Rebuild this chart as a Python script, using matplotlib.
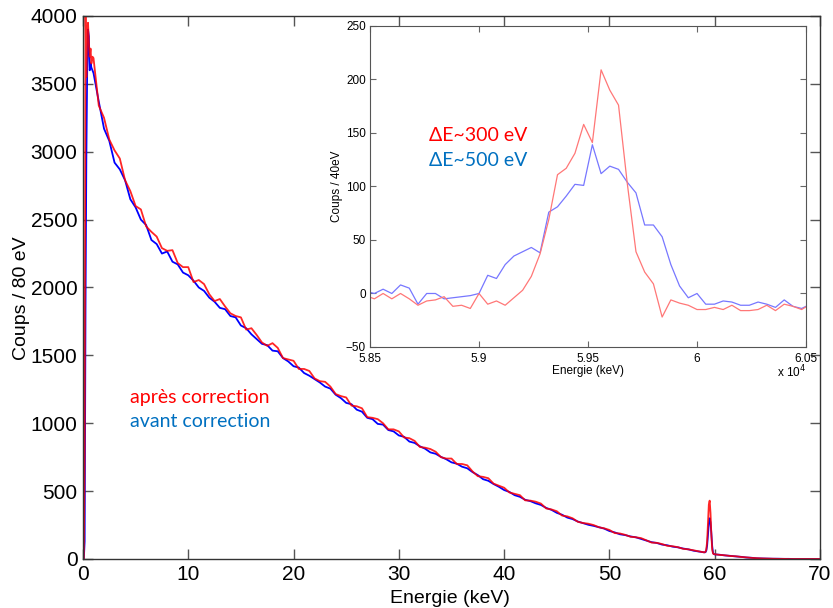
import numpy as np
import matplotlib
matplotlib.use('Agg')
import matplotlib.pyplot as plt
from matplotlib import font_manager as fm
from matplotlib.ticker import FuncFormatter, FixedLocator

# ---------------- main spectrum data (keV, counts / 80 eV) ----------------
energy_low = [0.08, 0.16, 0.24, 0.32, 0.40, 0.48, 0.56, 0.64, 0.72, 0.80, 0.90]
red_low = [0, 800, 4050, 3550, 3850, 3950, 3800, 3700, 3760, 3650, 3700]
blue_low = [0, 130, 1850, 2950, 3600, 3900, 3850, 3600, 3650, 3620, 3600]

energy_mid = list(np.arange(1.0, 59.01, 0.5))
red_mid = [3690, 3340, 3250, 3090, 3010, 2950, 2790, 2710, 2600, 2575,
           2450, 2410, 2375, 2290, 2270, 2275, 2180, 2150, 2150, 2040,
           2055, 2025, 1950, 1900, 1915, 1860, 1810, 1790, 1780, 1690,
           1700, 1650, 1595, 1570, 1590, 1555, 1480, 1470, 1460, 1400,
           1400, 1385, 1330, 1310, 1305, 1270, 1215, 1200, 1190, 1130,
           1125, 1110, 1045, 1040, 1030, 1000, 955, 955, 940, 895,
           890, 870, 825, 820, 810, 790, 750, 740, 740, 700,
           700, 690, 645, 610, 605, 595, 555, 540, 525, 490,
           480, 470, 432, 430, 422, 408, 372, 365, 352, 320,
           314, 300, 274, 265, 260, 250, 234, 226, 214, 191,
           188, 178, 164, 160, 154, 138, 121, 119, 110, 97,
           94, 87, 75, 71, 64, 56, 49]
blue_mid = [3580, 3370, 3170, 3080, 2920, 2870, 2790, 2650, 2590, 2500,
            2460, 2350, 2320, 2250, 2265, 2190, 2170, 2110, 2090, 2050,
            2000, 1975, 1925, 1895, 1850, 1840, 1790, 1780, 1720, 1700,
            1655, 1620, 1585, 1575, 1535, 1530, 1480, 1455, 1420, 1410,
            1370, 1350, 1325, 1300, 1270, 1255, 1210, 1185, 1150, 1140,
            1100, 1085, 1040, 1030, 995, 990, 950, 940, 910, 900,
            865, 855, 830, 812, 785, 775, 752, 735, 712, 702,
            680, 668, 640, 618, 588, 576, 552, 532, 508, 494,
            470, 458, 436, 426, 410, 398, 376, 362, 340, 326,
            305, 294, 276, 264, 252, 244, 234, 224, 206, 196,
            182, 176, 166, 160, 148, 136, 124, 118, 106, 101,
            91, 86, 77, 71, 61, 55, 49]

energy_peak = [59.12, 59.20, 59.28, 59.36, 59.44, 59.52, 59.60, 59.68, 59.76, 59.84, 59.92, 60.0]
red_peak = [52, 70, 130, 260, 400, 430, 340, 180, 70, 40, 36, 35]
blue_peak = [50, 62, 100, 180, 260, 300, 270, 190, 95, 45, 36, 34]

energy_tail = list(np.arange(60.5, 70.01, 0.5))
red_tail = [30, 27, 22, 20, 15, 12, 8, 6, 4, 3, 2, 1, 1, 0, 0, 0, 0, 0, 0, 0]
blue_tail = [31, 26, 23, 19, 16, 11, 9, 5, 4, 3, 2, 2, 1, 1, 0, 0, 0, 0, 0, 0]

energy = energy_low + energy_mid + energy_peak + energy_tail
red_counts = red_low + red_mid + red_peak + red_tail
blue_counts = blue_low + blue_mid + blue_peak + blue_tail

# ---------------- inset data (eV, counts / 40 eV) ----------------
inset_energy = list(np.arange(58480, 60521, 40))
inset_blue = [2, 0, 4, 0, 8, 5, -10, 0, 0, -5, -4, -3, -2, 0, 17, 14, 27, 35, 39, 43,
              38, 76, 81, 91, 102, 101, 139, 112, 119, 116, 104, 94, 64, 64, 53, 27,
              7, -4, 0, -10, -10, -7, -8, -11, -11, -8, -10, -13, -6, -12, -14, -10]
inset_red = [-2, -5, 0, -5, 0, -5, -11, -7, -6, -3, -12, -11, -14, 0, -10, -7, -11, -4, 3, 16,
             37, 69, 111, 117, 131, 158, 141, 209, 190, 176, 103, 39, 20, 9, -22, -6,
             -9, -11, -15, -15, -13, -15, -11, -16, -16, -15, -11, -16, -10, -12, -15, -10]

main_xticks = [0, 10, 20, 30, 40, 50, 60, 70]
main_yticks = [0, 500, 1000, 1500, 2000, 2500, 3000, 3500, 4000]
inset_xticks = [58500, 59000, 59500, 60000, 60500]
inset_yticks = [-50, 0, 50, 100, 150, 200, 250]

# ---------------- fonts ----------------
names = {f.name for f in fm.fontManager.ttflist}
tick_font = 'Liberation Sans Narrow' if 'Liberation Sans Narrow' in names else 'Liberation Sans'
plt.rcParams['font.family'] = [tick_font, 'Liberation Sans', 'DejaVu Sans']
label_font = ['Liberation Sans', 'DejaVu Sans']
note_font = ['Lato', 'Open Sans', 'DejaVu Sans']

fig = plt.figure(figsize=(8.33, 6.08), dpi=100)

# ---------------- main axes ----------------
ax = fig.add_axes([0.0996, 0.0806, 0.8848, 0.8931])
ax.plot(energy, blue_counts, color='#0000ff', lw=1.3)
ax.plot(energy, red_counts, color='#ff0000', lw=1.3, alpha=0.85)
ax.set_xlim(0, 70)
ax.set_ylim(0, 4000)
ax.xaxis.set_major_locator(FixedLocator(main_xticks))
ax.yaxis.set_major_locator(FixedLocator(main_yticks))
ax.tick_params(direction='in', length=7, width=1, top=True, right=True,
               labelsize=15, color='#555555', labelcolor='black', pad=4)
for s in ax.spines.values():
    s.set_color('#333333')
    s.set_linewidth(1.0)
ax.set_xlabel('Energie (keV)', fontsize=14, family=label_font)
ax.set_ylabel('Coups / 80 eV', fontsize=14, family=label_font)
ax.xaxis.set_label_coords(0.498, -0.057)
ax.yaxis.set_label_coords(-0.072, 0.48)

fig.text(0.156, 0.3377, 'après correction', color='#ff0000', fontsize=14,
         family=note_font, ha='left', va='baseline')
fig.text(0.156, 0.2982, 'avant correction', color='#0070c0', fontsize=14,
         family=note_font, ha='left', va='baseline')

# ---------------- inset axes ----------------
axin = fig.add_axes([0.4442, 0.4293, 0.5234, 0.5280])
axin.set_facecolor('white')
axin.plot(inset_energy, inset_blue, color='#7777ff', lw=0.9)
axin.plot(inset_energy, inset_red, color='#ff7777', lw=0.9)
axin.set_xlim(58500, 60500)
axin.set_ylim(-50, 250)
axin.xaxis.set_major_locator(FixedLocator(inset_xticks))
axin.yaxis.set_major_locator(FixedLocator(inset_yticks))
axin.xaxis.set_major_formatter(FuncFormatter(lambda v, p: '{:g}'.format(v / 1e4)))
axin.tick_params(direction='in', length=4, width=0.8, top=True, right=True,
                 labelsize=8.5, color='#666666', labelcolor='black', pad=3)
axin.tick_params(axis='x', pad=4.5)
for lab in axin.get_xticklabels() + axin.get_yticklabels():
    lab.set_family(label_font)
for s in axin.spines.values():
    s.set_color('#555555')
    s.set_linewidth(0.8)
axin.set_xlabel('Energie (keV)', fontsize=8.5, family=label_font, labelpad=0)
axin.set_ylabel('Coups / 40eV', fontsize=8.5, family=label_font, labelpad=2)
axin.text(1.0, -0.052, r'x 10$^{4}$', transform=axin.transAxes, ha='right', va='top',
          fontsize=8.5, family=label_font)

fig.text(0.515, 0.768, 'ΔE~300 eV', color='#ff0000', fontsize=14,
         family=note_font, ha='left', va='baseline')
fig.text(0.515, 0.7275, 'ΔE~500 eV', color='#0070c0', fontsize=14,
         family=note_font, ha='left', va='baseline')

fig.savefig('out.png', dpi=100)
